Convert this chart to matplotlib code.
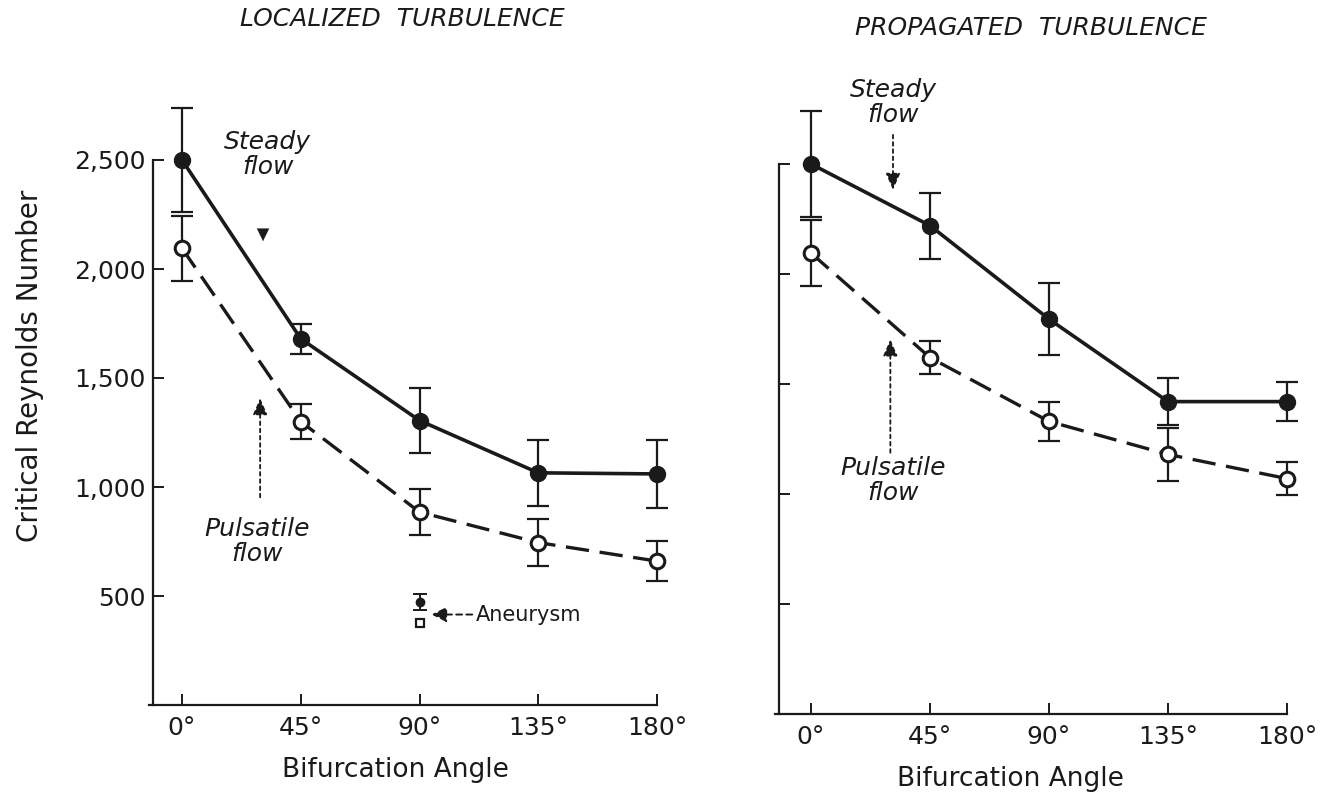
import matplotlib
matplotlib.use("Agg")
import matplotlib.pyplot as plt

plt.rcParams['font.family'] = ['DejaVu Sans']

# ---------------- data ----------------
angles = [0, 45, 90, 135, 180]
angle_labels = ["0°", "45°", "90°", "135°", "180°"]
y_ticks = [500, 1000, 1500, 2000, 2500]
y_tick_labels = ["500", "1,000", "1,500", "2,000", "2,500"]

loc_steady = [2500, 1680, 1305, 1065, 1060]
loc_steady_err = [240, 70, 150, 150, 155]
loc_pulsatile = [2095, 1300, 885, 745, 660]
loc_pulsatile_err = [150, 80, 105, 108, 92]

aneurysm_angle = [90]
aneurysm_steady = [472]
aneurysm_steady_err = [38]
aneurysm_pulsatile = [376]

prop_steady = [2500, 2220, 1795, 1420, 1420]
prop_steady_err = [240, 150, 165, 107, 90]
prop_pulsatile = [2095, 1620, 1330, 1180, 1070]
prop_pulsatile_err = [150, 75, 90, 122, 75]

# ---------------- figure ----------------
W, H = 1336, 795
fig = plt.figure(figsize=(W / 100, H / 100), dpi=100)
fig.patch.set_facecolor("white")

axL = fig.add_axes([153 / W, 1 - 705 / H, 530.4 / W, 610.4 / H])
axR = fig.add_axes([779.3 / W, 1 - 714 / H, 534.1 / W, 616 / H])

ink = "#1a1a1a"
tick_fs = 18


def style_axes(ax, xmin, show_ylabels, xlabel_x):
    ax.set_xlim(xmin, 190)
    ax.set_ylim(0, 2800)
    for s in ("top", "right"):
        ax.spines[s].set_visible(False)
    ax.spines["left"].set_bounds(0, 2500)
    ax.spines["bottom"].set_bounds(xmin - 1.5, 180)
    for s in ("left", "bottom"):
        ax.spines[s].set_linewidth(1.6)
        ax.spines[s].set_color(ink)
    ax.set_xticks(angles)
    ax.set_xticklabels(angle_labels)
    ax.set_yticks(y_ticks)
    if show_ylabels:
        ax.set_yticklabels(y_tick_labels)
    else:
        ax.set_yticklabels([])
    ax.tick_params(axis="both", direction="in", length=8, width=1.4,
                   colors=ink, labelsize=tick_fs, pad=5)
    ax.tick_params(axis="x", pad=8)
    ax.set_xlabel("Bifurcation Angle", fontsize=19, color=ink, labelpad=10)
    ax.xaxis.set_label_coords(xlabel_x, -0.085)
    ax.set_facecolor("none")


def draw_series(ax, steady, steady_err, puls, puls_err):
    ax.errorbar(angles, steady, yerr=steady_err, fmt="none", ecolor=ink,
                elinewidth=1.6, capsize=8, capthick=1.6, zorder=2)
    ax.errorbar(angles, puls, yerr=puls_err, fmt="none", ecolor=ink,
                elinewidth=1.6, capsize=8, capthick=1.6, zorder=2)
    ax.plot(angles, steady, "-", color=ink, lw=2.6, marker="o",
            markersize=11.5, markerfacecolor=ink, markeredgecolor=ink, zorder=3)
    ax.plot(angles, puls, color=ink, lw=2.4, dashes=(7, 3.2), marker="o",
            markersize=10.5, markerfacecolor="white", markeredgecolor=ink,
            markeredgewidth=2.2, zorder=3)


style_axes(axL, -11, True, 0.458)
style_axes(axR, -12, False, 0.433)
draw_series(axL, loc_steady, loc_steady_err, loc_pulsatile, loc_pulsatile_err)
draw_series(axR, prop_steady, prop_steady_err, prop_pulsatile, prop_pulsatile_err)

# aneurysm points (left panel)
axL.errorbar(aneurysm_angle, aneurysm_steady, yerr=aneurysm_steady_err, fmt="o",
             color=ink, markersize=6, elinewidth=1.4, capsize=5, capthick=1.4, zorder=3)
axL.plot(aneurysm_angle, aneurysm_pulsatile, "s", markersize=5.5,
         markerfacecolor="white", markeredgecolor=ink, markeredgewidth=1.6, zorder=3)
axL.annotate("", xy=(93.5, 415), xytext=(111, 415),
             arrowprops=dict(arrowstyle="-|>,head_length=0.5,head_width=0.25",
                             color=ink, lw=1.4, linestyle=(0, (3, 2.2)),
                             mutation_scale=18))
axL.text(111.3, 415, "Aneurysm", fontsize=15, color=ink, ha="left", va="center")

# flow labels and arrows
lab_kw = dict(fontsize=18, fontstyle="italic", color=ink, ha="center",
              va="center", linespacing=1.05)
arrow_kw = dict(arrowstyle="-|>,head_length=0.5,head_width=0.22", color=ink,
                lw=1.3, linestyle=(0, (2, 2)), mutation_scale=20)

axL.text(32.5, 2525, "Steady\nflow", **lab_kw)
axL.annotate("", xy=(30.7, 2115), xytext=(30.7, 2160),
             arrowprops=dict(arrowstyle="-|>,head_length=0.45,head_width=0.22",
                             color=ink, lw=0.1, mutation_scale=20))
axL.text(28.5, 752, "Pulsatile\nflow", **lab_kw)
axL.annotate("", xy=(29.6, 1420), xytext=(29.6, 940), arrowprops=arrow_kw)

axR.text(31, 2780, "Steady\nflow", **lab_kw)
axR.annotate("", xy=(31, 2370), xytext=(31, 2645), arrowprops=arrow_kw)
axR.text(31, 1060, "Pulsatile\nflow", **lab_kw)
axR.annotate("", xy=(30, 1715), xytext=(30, 1175), arrowprops=arrow_kw)

# y label and titles
fig.text(30 / W, 1 - 366 / H, "Critical Reynolds Number", rotation=90,
         fontsize=20, color=ink, ha="center", va="center")
fig.text(402 / W, 1 - 19 / H, "LOCALIZED  TURBULENCE", fontsize=18,
         fontstyle="italic", color=ink, ha="center", va="center")
fig.text(1031 / W, 1 - 28 / H, "PROPAGATED  TURBULENCE", fontsize=18,
         fontstyle="italic", color=ink, ha="center", va="center")

fig.savefig("out.png", dpi=100, facecolor="white")
